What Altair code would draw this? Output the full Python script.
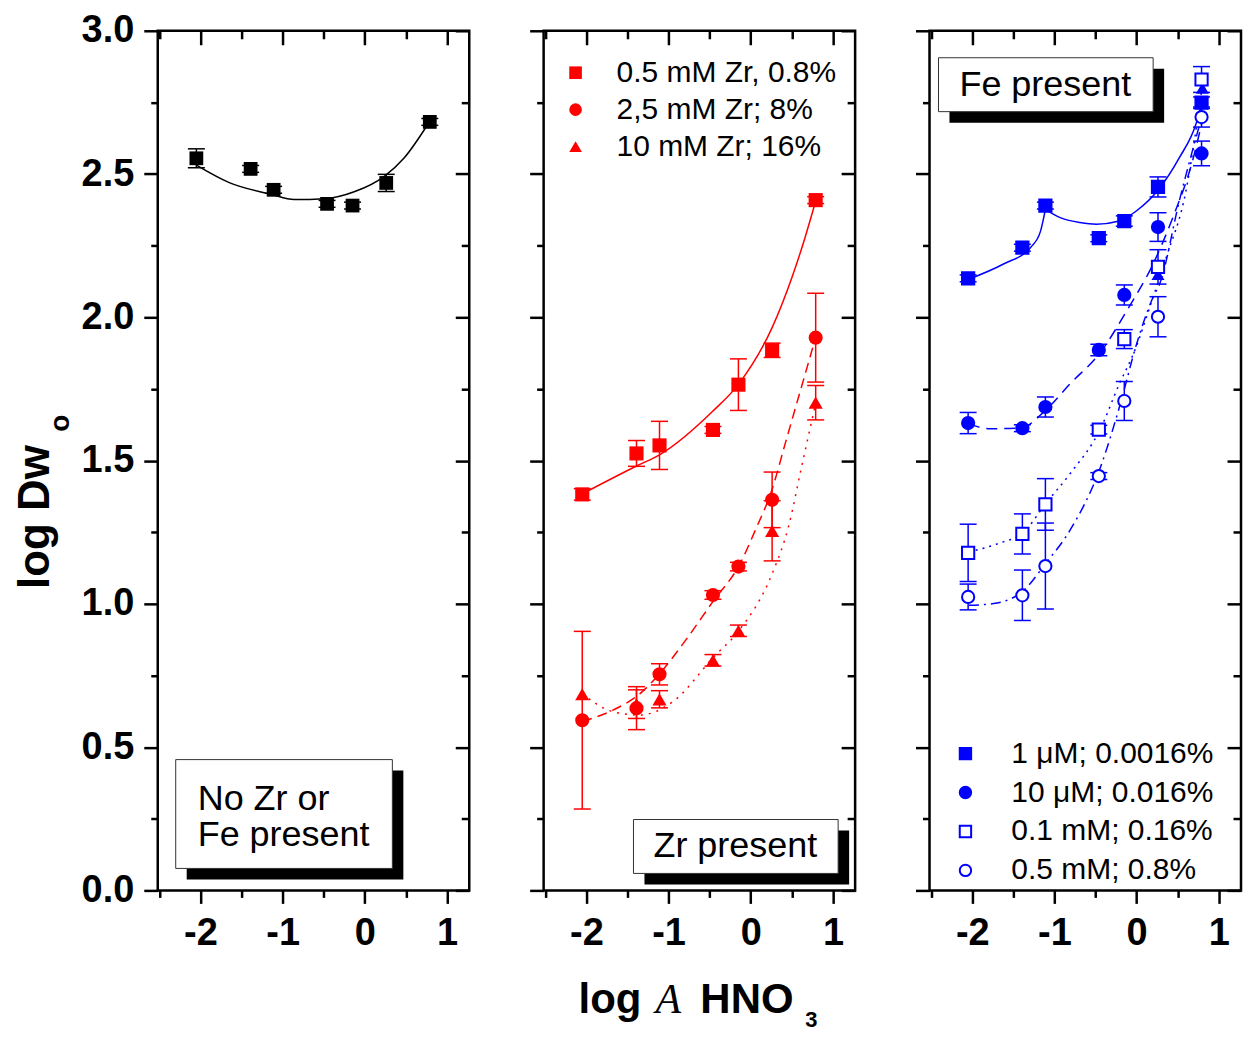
import altair as alt
import pandas as pd

FONT = "Liberation Sans"
BLACK = "#000000"
RED = "#ff0000"
BLUE = "#0000ff"

# ---------------- data ----------------
X = [-2.05, -1.39, -1.11, -0.46, -0.15, 0.26, 0.79]

# Panel 1: no Zr or Fe
nofe_y = [2.555, 2.518, 2.445, 2.396, 2.390, 2.469, 2.682]
nofe_err = [0.033, 0.012, 0.012, 0.012, 0.012, 0.030, 0.012]
nofe_fit_x = [-2.05, -1.65, -1.14, -0.86, -0.49, -0.13, 0.24, 0.48, 0.78]
nofe_fit_y = [2.531, 2.470, 2.429, 2.411, 2.414, 2.438, 2.493, 2.557, 2.680]

# Panel 2: Zr present
zr_labels = ["0.5 mM Zr, 0.8%", "2,5 mM Zr; 8%", "10 mM Zr; 16%"]
zr_sq_y = [1.382, 1.525, 1.553, 1.607, 1.765, 1.885, 2.409]
zr_sq_err = [0.02, 0.045, 0.084, 0.012, 0.09, 0.025, 0.012]
zr_ci_y = [0.594, 0.636, 0.754, 1.031, 1.130, 1.363, 1.929]
zr_ci_err = [0.31, 0.075, 0.037, 0.015, 0.015, 0.097, 0.155]
zr_tr_y = [0.685, 0.650, 0.667, 0.803, 0.906, 1.255, 1.702]
zr_tr_err = [0.0, 0.05, 0.03, 0.02, 0.02, 0.105, 0.06]
zr_sq_fit_x = [-2.06, -1.39, -1.11, -0.46, -0.15, 0.26, 0.50, 0.66, 0.79]
zr_sq_fit_y = [1.382, 1.481, 1.520, 1.673, 1.766, 1.964, 2.138, 2.278, 2.406]
zr_ci_fit_x = [-2.05, -1.67, -1.35, -1.11, -0.80, -0.45, -0.14, 0.06, 0.26, 0.42, 0.60, 0.79]
zr_ci_fit_y = [0.590, 0.630, 0.686, 0.756, 0.870, 1.012, 1.135, 1.260, 1.400, 1.560, 1.740, 1.930]
zr_tr_fit_x = [-2.05, -1.67, -1.35, -0.95, -0.45, -0.14, 0.26, 0.46, 0.62, 0.79]
zr_tr_fit_y = [0.686, 0.623, 0.612, 0.658, 0.815, 0.908, 1.105, 1.270, 1.480, 1.700]

# Panel 3: Fe present
fe_labels = ["1 μM; 0.0016%", "10 μM; 0.016%", "0.1 mM; 0.16%", "0.5 mM; 0.8%"]
fe_a_y = [2.136, 2.243, 2.390, 2.276, 2.336, 2.455, 2.749]
fe_a_err = [0.012, 0.012, 0.012, 0.012, 0.018, 0.035, 0.02]
fe_b_y = [1.631, 1.613, 1.687, 1.886, 2.078, 2.315, 2.572]
fe_b_err = [0.037, 0.012, 0.035, 0.02, 0.035, 0.05, 0.043]
fe_c_y = [1.178, 1.244, 1.347, 1.608, 1.924, 2.176, 2.830]
fe_c_err = [0.10, 0.07, 0.09, 0.015, 0.033, 0.06, 0.045]
fe_d_y = [1.024, 1.030, 1.132, 1.446, 1.708, 2.002, 2.699]
fe_d_err = [0.045, 0.088, 0.15, 0.012, 0.068, 0.07, 0.035]
fe_tri_x = [0.26, 0.80]
fe_tri_y = [2.15, 2.80]

fe_a_fit1_x = [-2.05, -1.62, -1.29, -1.17, -1.11]
fe_a_fit1_y = [2.132, 2.186, 2.244, 2.300, 2.377]
fe_a_fit2_x = [-1.11, -0.93, -0.69, -0.49, -0.21, 0.00, 0.27, 0.52, 0.72, 0.79]
fe_a_fit2_y = [2.377, 2.348, 2.331, 2.325, 2.336, 2.372, 2.447, 2.557, 2.673, 2.743]
fe_b_fit_x = [-2.04, -1.78, -1.41, -1.11, -0.81, -0.44, -0.12, 0.20, 0.44, 0.68, 0.79]
fe_b_fit_y = [1.628, 1.611, 1.614, 1.675, 1.768, 1.878, 2.023, 2.186, 2.348, 2.546, 2.674]
fe_c_fit_x = [-2.04, -1.69, -1.37, -1.11, -0.81, -0.44, -0.21, -0.04, 0.20, 0.36, 0.60, 0.79]
fe_c_fit_y = [1.181, 1.210, 1.251, 1.349, 1.454, 1.611, 1.768, 1.872, 2.070, 2.209, 2.441, 2.790]
fe_d_fit_x = [-2.04, -1.74, -1.37, -1.11, -0.81, -0.44, -0.21, 0.00, 0.20, 0.28, 0.52, 0.79]
fe_d_fit_y = [0.995, 1.001, 1.048, 1.140, 1.257, 1.477, 1.686, 1.907, 2.070, 2.116, 2.407, 2.697]

X_MAJOR = [-2, -1, 0, 1]
X_MINOR = [-2.5, -1.5, -0.5, 0.5]
Y_MAJOR = [0.0, 0.5, 1.0, 1.5, 2.0, 2.5, 3.0]
Y_MINOR = [0.25, 0.75, 1.25, 1.75, 2.25, 2.75]

# ---------------- helpers ----------------
xs = alt.Scale(domain=[-2.52, 1.27], nice=False, zero=False)
ys = alt.Scale(domain=[0, 3], nice=False, zero=False)
carrier = pd.DataFrame({"x": [0.0], "y": [1.0]})
W, H = 312, 861


def pts_df(yv, ev, label):
    return pd.DataFrame({
        "x": X, "y": yv,
        "lo": [a - b for a, b in zip(yv, ev)],
        "hi": [a + b for a, b in zip(yv, ev)],
        "series": label,
    })


def XE(field="x"):
    return alt.X(f"{field}:Q", scale=xs, axis=None)


def YE(field="y"):
    return alt.Y(f"{field}:Q", scale=ys, axis=None)


def axis_layers(show_ylabels):
    common = dict(grid=False, title=None, domain=False, tickColor=BLACK, tickWidth=2.5)
    base = alt.Chart(carrier).mark_point(opacity=0)

    def enc(xax, yax):
        return base.encode(x=alt.X("x:Q", scale=xs, axis=xax),
                           y=alt.Y("y:Q", scale=ys, axis=yax))

    a = enc(
        alt.Axis(orient="bottom", values=X_MAJOR, tickSize=13, labelFont=FONT, labelFontSize=38,
                 labelFontWeight="bold", labelColor=BLACK, labelPadding=11, labelFlush=False,
                 labelExpr="datum.value < 0 ? '-' + abs(datum.value) : '' + datum.value", **common),
        alt.Axis(orient="left", values=Y_MAJOR, tickSize=14, labels=show_ylabels, format=".1f",
                 labelFont=FONT, labelFontSize=38, labelFontWeight="bold", labelColor=BLACK,
                 labelPadding=10, **common),
    )
    b = enc(
        alt.Axis(orient="bottom", values=X_MINOR, tickSize=7, labels=False, **common),
        alt.Axis(orient="left", values=Y_MINOR, tickSize=7, labels=False, **common),
    )
    c = enc(
        alt.Axis(orient="top", values=X_MAJOR, tickSize=14, offset=-14, labels=False, **common),
        alt.Axis(orient="right", values=Y_MAJOR, tickSize=14, offset=-14, labels=False, **common),
    )
    d = enc(
        alt.Axis(orient="top", values=X_MINOR, tickSize=8, offset=-8, labels=False, **common),
        alt.Axis(orient="right", values=Y_MINOR, tickSize=8, offset=-8, labels=False, **common),
    )
    frame = alt.Chart(carrier).mark_rect(fill="transparent", stroke=BLACK, strokeWidth=2.5).encode(
        x=alt.value(0), x2=alt.value(W), y=alt.value(0), y2=alt.value(H))
    return [a, b, c, d, frame]


def errbars(df, color):
    d = df[df["hi"] > df["lo"]]
    rule = alt.Chart(d).mark_rule(color=color, strokeWidth=1.5).encode(x=XE(), y=YE("lo"), y2="hi:Q")
    lo = alt.Chart(d).mark_tick(color=color, orient="horizontal", size=17, thickness=1.5,
                                opacity=1).encode(x=XE(), y=YE("lo"))
    hi = alt.Chart(d).mark_tick(color=color, orient="horizontal", size=17, thickness=1.5,
                                opacity=1).encode(x=XE(), y=YE("hi"))
    return [rule, lo, hi]


def fit_line(fx, fy, color, dash=None):
    df = pd.DataFrame({"x": fx, "y": fy})
    kw = dict(color=color, strokeWidth=1.5, interpolate="monotone")
    if dash is not None:
        kw["strokeDash"] = dash
    return alt.Chart(df).mark_line(**kw).encode(x=XE(), y=YE())


def textbox(x0, y0, x1, y1):
    shadow = alt.Chart(carrier).mark_rect(color=BLACK).encode(
        x=alt.value(x0 + 11), x2=alt.value(x1 + 11), y=alt.value(y0 + 11), y2=alt.value(y1 + 11))
    box = alt.Chart(carrier).mark_rect(fill="white", stroke="#333333", strokeWidth=1).encode(
        x=alt.value(x0), x2=alt.value(x1), y=alt.value(y0), y2=alt.value(y1))
    return [shadow, box]


def label(text, x, y, size=36, align="left", baseline="alphabetic", weight="normal",
          angle=0, font=FONT, style="normal"):
    kw = dict(text=text, font=font, fontSize=size, align=align, baseline=baseline,
              fontWeight=weight, color=BLACK, fontStyle=style)
    if angle:
        kw["angle"] = angle
    return alt.Chart(carrier).mark_text(**kw).encode(x=alt.value(x), y=alt.value(y))


# ---------------- panel 1 ----------------
d1 = pts_df(nofe_y, nofe_err, "none")
p1_layers = axis_layers(True)
p1_layers += errbars(d1, BLACK)
p1_layers.append(fit_line(nofe_fit_x, nofe_fit_y, BLACK))
p1_layers.append(alt.Chart(d1).mark_point(shape="square", filled=True, color=BLACK, size=190,
                                          opacity=1).encode(x=XE(), y=YE()))
p1_layers += textbox(18, 730, 235, 839)
p1_layers.append(label("No Zr or", 40, 780))
p1_layers.append(label("Fe present", 40, 817))
p1_layers.append(label("log Dw", -122, 487, size=44, align="center", baseline="middle",
                       weight="bold", angle=270))
p1_layers.append(label("o", -97, 393, size=28, align="center", baseline="middle",
                       weight="bold", angle=270))
p1 = alt.layer(*p1_layers).resolve_axis(x="independent", y="independent").properties(width=W, height=H)

# ---------------- panel 2 ----------------
d2 = pd.concat([pts_df(zr_sq_y, zr_sq_err, zr_labels[0]),
                pts_df(zr_ci_y, zr_ci_err, zr_labels[1]),
                pts_df(zr_tr_y, zr_tr_err, zr_labels[2])], ignore_index=True)
p2_layers = axis_layers(False)
p2_layers += errbars(d2, RED)
p2_layers.append(fit_line(zr_sq_fit_x, zr_sq_fit_y, RED))
p2_layers.append(fit_line(zr_ci_fit_x, zr_ci_fit_y, RED, [10, 6]))
p2_layers.append(fit_line(zr_tr_fit_x, zr_tr_fit_y, RED, [2, 6]))
p2_layers.append(alt.Chart(d2).mark_point(filled=True, color=RED, size=200, opacity=1).encode(
    x=XE(), y=YE(),
    shape=alt.Shape("series:N",
                    scale=alt.Scale(domain=zr_labels, range=["square", "circle", "triangle-up"]),
                    legend=alt.Legend(orient="none", legendX=17, legendY=27, title=None,
                                      labelFont=FONT, labelFontSize=30, labelColor=BLACK,
                                      labelLimit=400, symbolSize=160, rowPadding=7,
                                      labelOffset=26, padding=0,
                                      symbolFillColor=RED, symbolStrokeWidth=0)),
))
p2_layers += textbox(90, 790, 295, 844)
p2_layers.append(label("Zr present", 192, 817, align="center", baseline="middle"))
# x axis title (centred under middle panel)
p2_layers.append(label("log", 35, 984, size=42, weight="bold"))
p2_layers.append(label("A", 112, 984, size=42, font="Liberation Serif", style="italic"))
p2_layers.append(label("HNO", 157, 984, size=42, weight="bold"))
p2_layers.append(label("3", 262, 998, size=22, weight="bold"))
p2 = alt.layer(*p2_layers).resolve_axis(x="independent", y="independent").properties(width=W, height=H)

# ---------------- panel 3 ----------------
d3 = pd.concat([pts_df(fe_a_y, fe_a_err, fe_labels[0]),
                pts_df(fe_b_y, fe_b_err, fe_labels[1]),
                pts_df(fe_c_y, fe_c_err, fe_labels[2]),
                pts_df(fe_d_y, fe_d_err, fe_labels[3])], ignore_index=True)
fa = pd.concat([pd.DataFrame({"x": fe_a_fit1_x, "y": fe_a_fit1_y, "seg": "a"}),
                pd.DataFrame({"x": fe_a_fit2_x, "y": fe_a_fit2_y, "seg": "b"})], ignore_index=True)
tri3 = pd.DataFrame({"x": fe_tri_x, "y": fe_tri_y})
p3_layers = axis_layers(False)
p3_layers += errbars(d3, BLUE)
p3_layers.append(alt.Chart(fa).mark_line(color=BLUE, strokeWidth=1.5, interpolate="monotone").encode(
    x=XE(), y=YE(), detail="seg:N"))
p3_layers.append(fit_line(fe_b_fit_x, fe_b_fit_y, BLUE, [11, 7]))
p3_layers.append(fit_line(fe_c_fit_x, fe_c_fit_y, BLUE, [2, 5]))
p3_layers.append(fit_line(fe_d_fit_x, fe_d_fit_y, BLUE, [10, 5, 2, 5]))
leg3 = alt.Legend(orient="none", legendX=21, legendY=709, title=None, labelFont=FONT,
                  labelFontSize=30, labelColor=BLACK, labelLimit=400, symbolSize=130,
                  rowPadding=9, labelOffset=31, padding=0, symbolStrokeWidth=2)
p3_layers.append(alt.Chart(tri3).mark_point(shape="triangle-up", filled=True, color=BLUE, size=170,
                                            opacity=1).encode(x=XE(), y=YE()))
p3_layers.append(alt.Chart(d3).mark_point(strokeWidth=2, size=150, opacity=1).encode(
    x=XE(), y=YE(),
    shape=alt.Shape("series:N", scale=alt.Scale(domain=fe_labels,
                                                range=["square", "circle", "square", "circle"]),
                    legend=leg3),
    fill=alt.Fill("series:N", scale=alt.Scale(domain=fe_labels,
                                              range=[BLUE, BLUE, "#ffffff", "#ffffff"]),
                  legend=leg3),
    stroke=alt.Stroke("series:N", scale=alt.Scale(domain=fe_labels,
                                                  range=[BLUE, BLUE, BLUE, BLUE]),
                      legend=leg3),
))
p3_layers += textbox(9, 27, 224, 81)
p3_layers.append(label("Fe present", 116, 54, align="center", baseline="middle"))
p3 = alt.layer(*p3_layers).resolve_axis(x="independent", y="independent").properties(width=W, height=H)

chart = (
    alt.hconcat(p1, p2, p3, spacing=56.5)
    .resolve_scale(shape="independent", fill="independent", stroke="independent")
    .resolve_legend(shape="independent", fill="independent", stroke="independent")
    .properties(padding={"left": 13, "top": 10, "right": 0, "bottom": 0}, background="white")
    .configure_view(stroke=None)
    .configure(font=FONT)
)

chart.save("out.html", embed_options={"renderer": "svg", "actions": False})
